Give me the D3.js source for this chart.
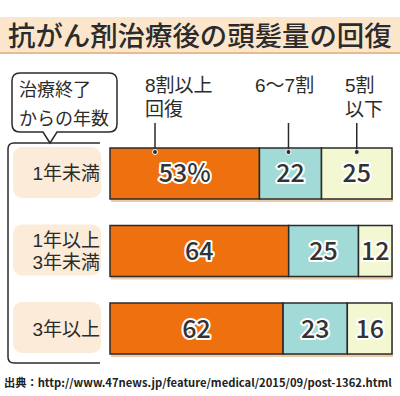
<!DOCTYPE html>
<html><head><meta charset="utf-8">
<script src="https://cdn.jsdelivr.net/npm/d3@7"></script>
<style>body{margin:0;background:#fff}svg{display:block}</style>
</head><body>
<script>
const title = "抗がん剤治療後の頭髪量の回復";
const source = "出典：http://www.47news.jp/feature/medical/2015/09/post-1362.html";
const groupTitle = ["治療終了", "からの年数"];
const rows = [["1年未満"], ["1年以上", "3年未満"], ["3年以上"]];
const categories = [["8割以上", "回復"], ["6〜7割"], ["5割", "以下"]];
const over80 = [53, 64, 62];
const from60to70 = [22, 25, 23];
const under50 = [25, 12, 16];

const W = 400, H = 396;
const FONT = "'Noto Sans CJK JP', 'Noto Sans', sans-serif";
const FONT_TIGHT = "'Liberation Sans', 'Noto Sans CJK JP', sans-serif";
const colors = ["#ef700e", "#a2dad7", "#f3f8d2"];
const ink = "#2b2b2b";

const svg = d3.select("body").append("svg").attr("width", W).attr("height", H)
  .style("font-family", FONT);
svg.append("rect").attr("width", W).attr("height", H).attr("fill", "#fff");

// fit a text's font size so that its natural width equals target
function fitWidth(sel, target, maxSize) {
  const node = sel.node();
  const len = node.getComputedTextLength();
  const fs = +sel.attr("font-size");
  sel.attr("font-size", Math.min(maxSize, fs * target / len));
}

// title band
svg.append("rect").attr("x", 0).attr("y", 17).attr("width", W).attr("height", 35).attr("fill", "#fce6cb");
svg.append("rect").attr("x", 0).attr("y", 52).attr("width", W).attr("height", 2).attr("fill", "#e9bb8c");
svg.append("text").attr("x", 8).attr("y", 46).text(title)
  .attr("font-size", 27).attr("font-weight", 500).attr("fill", ink)
  .call(fitWidth, 384, 28);

const rowIdx = rows.map((d, i) => i);
const y = d3.scaleBand().domain(rowIdx).range([148, 354]).paddingInner(0.342).paddingOuter(0);
const x0 = 110, x1 = 392;
const data = rowIdx.map(i => {
  const vals = [over80[i], from60to70[i], under50[i]];
  const total = d3.sum(vals);
  const x = d3.scaleLinear().domain([0, total]).range([x0, x1]);
  let acc = 0;
  const segs = vals.map((v, k) => { const s = {k, v, a: x(acc), b: x(acc + v)}; acc += v; return s; });
  return {i, segs, x};
});

// multi-line text helper (one <text>, several <tspan>)
function multiText(sel, lines, x, yFirst, lh) {
  sel.selectAll("tspan").data(lines).join("tspan")
    .attr("x", x).attr("y", (t, j) => yFirst + j * lh).text(t => t);
}

// bracket
const bt = 143, bb = 363, bl = 8, br = 100;
svg.append("path")
  .attr("d", `M${br},${bt} H${bl+6} Q${bl},${bt} ${bl},${bt+6} V${bb-6} Q${bl},${bb} ${bl+6},${bb} H${br}`)
  .attr("fill", "none").attr("stroke", ink).attr("stroke-width", 1.5);

// callout
const cx0 = 12, cx1 = 117, cy0 = 73, cy1 = 132, r = 8, px = 50;
svg.append("path")
  .attr("d", `M${cx0+r},${cy0} H${cx1-r} Q${cx1},${cy0} ${cx1},${cy0+r} V${cy1-r} Q${cx1},${cy1} ${cx1-r},${cy1} H${px+7} L${px},${bt} L${px-7},${cy1} H${cx0+r} Q${cx0},${cy1} ${cx0},${cy1-r} V${cy0+r} Q${cx0},${cy0} ${cx0+r},${cy0} Z`)
  .attr("fill", "#fff").attr("stroke", ink).attr("stroke-width", 1.5);
svg.append("text").attr("font-size", 18).attr("fill", ink)
  .call(multiText, groupTitle, 19, 96, 29);

// row label boxes
const rowG = svg.selectAll("g.row").data(data).join("g").attr("class", "row");
rowG.append("rect").attr("x", 13).attr("y", d => y(d.i) - 1).attr("width", 88).attr("height", y.bandwidth())
  .attr("rx", 9).attr("fill", "#fcebd9");
rowG.each(function(d) {
  const lines = rows[d.i];
  const cy = y(d.i) + y.bandwidth() / 2;
  const lh = 21.5;
  d3.select(this).append("text").attr("text-anchor", "end")
    .attr("font-size", 19).attr("fill", ink).style("font-family", FONT_TIGHT)
    .call(multiText, lines, 100, cy + 7 - (lines.length - 1) / 2 * lh, lh);
});

// shadows and bars
rowG.append("rect").attr("x", x0 + 1).attr("y", d => y(d.i) + 3).attr("width", x1 - x0)
  .attr("height", y.bandwidth()).attr("fill", "#ebcaa8");
rowG.selectAll("rect.seg").data(d => d.segs.map(s => ({...s, i: d.i}))).join("rect").attr("class", "seg")
  .attr("x", s => s.a).attr("y", s => y(s.i)).attr("width", s => s.b - s.a).attr("height", y.bandwidth())
  .attr("fill", s => colors[s.k]).attr("stroke", ink).attr("stroke-width", 1.5);
rowG.selectAll("text.val").data(d => d.segs.map(s => ({...s, i: d.i}))).join("text").attr("class", "val")
  .attr("x", s => (s.a + s.b) / 2).attr("y", s => y(s.i) + y.bandwidth() / 2 + 9)
  .attr("text-anchor", "middle").attr("font-size", 25).attr("font-weight", 500)
  .attr("fill", "#333").attr("stroke", "#fff").attr("stroke-width", 4).attr("stroke-linejoin", "round")
  .style("paint-order", "stroke")
  .text(s => (s.i === 0 && s.k === 0) ? s.v + "%" : s.v);

// header labels with leader lines
const first = data[0].segs;
const leaderX = [first[0].a + 45, (first[1].a + first[1].b) / 2 - 2, (first[2].a + first[2].b) / 2];
const headX = [145, 255, 345];
categories.forEach((lines, k) => {
  svg.append("text").attr("font-size", 19).attr("fill", ink).style("font-family", FONT_TIGHT)
    .call(multiText, lines, headX[k], 92, 24);
  svg.append("line").attr("x1", leaderX[k]).attr("x2", leaderX[k]).attr("y1", 123).attr("y2", 152)
    .attr("stroke", ink).attr("stroke-width", 1.5);
  svg.append("circle").attr("cx", leaderX[k]).attr("cy", 152).attr("r", 2.5)
    .attr("fill", ink).attr("stroke", "#fff").attr("stroke-width", 1);
});

// source
svg.append("text").attr("x", 4).attr("y", 387).text(source)
  .attr("font-size", 12.5).attr("font-weight", 700).attr("fill", "#222")
  .call(fitWidth, 388, 13);
</script>
</body></html>
